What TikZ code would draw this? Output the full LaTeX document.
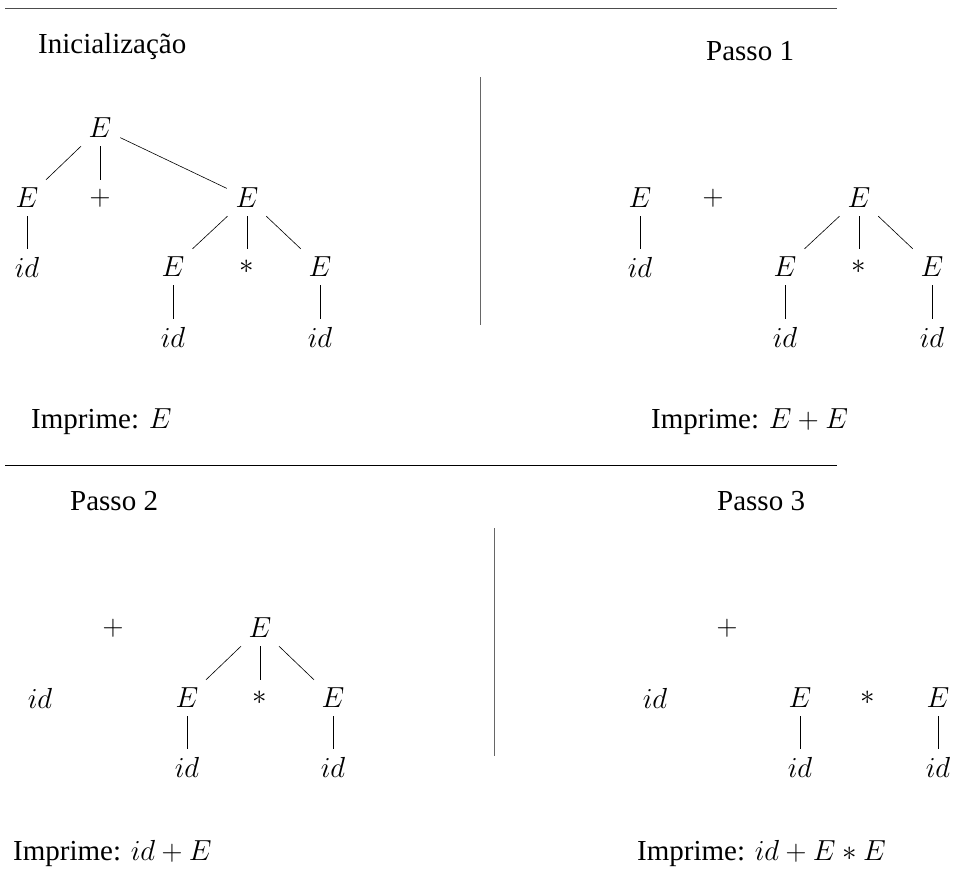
\RequirePackage{fix-cm}
\documentclass[tikz,border=0pt]{standalone}
\usepackage[no-math]{fontspec}
\setmainfont{Liberation Serif}
\begin{document}
\begin{tikzpicture}[x=1pt,y=-1pt,
  tn/.style={minimum width=40pt,minimum height=36pt,inner sep=0pt,font=\fontsize{29}{34}\selectfont},
  lbl/.style={anchor=base west,inner sep=0pt,font=\fontsize{29}{34}\selectfont},
  edge/.style={line width=0.6pt},
  rule/.style={line width=0.8pt}]
\useasboundingbox (0,0) rectangle (960,889);
% rules
\coordinate (h1a) at (5,8); \coordinate (h1b) at (837,8);
\coordinate (h2a) at (5,465); \coordinate (h2b) at (837,465);
\coordinate (v1a) at (480,77); \coordinate (v1b) at (480,325);
\coordinate (v2a) at (494,528); \coordinate (v2b) at (494,756);
\draw[rule,black!70] (h1a) -- (h1b);
\draw[rule] (h2a) -- (h2b);
\draw[rule,black!60] (v1a) -- (v1b);
\draw[rule,black!60] (v2a) -- (v2b);
% labels
\node[lbl] (t0) at (38,53) {Inicialização};
\node[lbl] (t1) at (706,60) {Passo 1};
\node[lbl] (t2) at (70,510) {Passo 2};
\node[lbl] (t3) at (717,510) {Passo 3};
\node[lbl] (p0) at (31,428) {Imprime: $E$};
\node[lbl] (p1) at (651,428) {Imprime: $E+E$};
\node[lbl] (p2) at (13,860) {Imprime: $id+E$};
\node[lbl] (p3) at (637,860) {Imprime: $id+E*E$};
% tree 0
\node[tn] (r0) at (100,128) {$E$};
\node[tn] (a1) at (27,198) {$E$};
\node[tn] (a2) at (100,198) {$+$};
\node[tn] (a3) at (247,198) {$E$};
\node[tn] (b1) at (27,267) {$id$};
\node[tn] (c1) at (173,267) {$E$};
\node[tn] (c2) at (247,267) {$*$};
\node[tn] (c3) at (320,267) {$E$};
\node[tn] (d1) at (173,337) {$id$};
\node[tn] (d3) at (320,337) {$id$};
\draw[edge] (r0) -- (a1); \draw[edge] (r0) -- (a2); \draw[edge] (r0) -- (a3);
\draw[edge] (a1) -- (b1);
\draw[edge] (a3) -- (c1); \draw[edge] (a3) -- (c2); \draw[edge] (a3) -- (c3);
\draw[edge] (c1) -- (d1); \draw[edge] (c3) -- (d3);
% tree 1
\node[tn] (e1) at (640,198) {$E$};
\node[tn] (e2) at (713,198) {$+$};
\node[tn] (e3) at (859,198) {$E$};
\node[tn] (f1) at (640,267) {$id$};
\node[tn] (g1) at (785,267) {$E$};
\node[tn] (g2) at (859,267) {$*$};
\node[tn] (g3) at (932,267) {$E$};
\node[tn] (h1) at (785,337) {$id$};
\node[tn] (h3) at (932,337) {$id$};
\draw[edge] (e1) -- (f1);
\draw[edge] (e3) -- (g1); \draw[edge] (e3) -- (g2); \draw[edge] (e3) -- (g3);
\draw[edge] (g1) -- (h1); \draw[edge] (g3) -- (h3);
% tree 2
\node[tn] (i2) at (113,628) {$+$};
\node[tn] (i3) at (260,628) {$E$};
\node[tn] (j0) at (40,698) {$id$};
\node[tn] (j1) at (187,698) {$E$};
\node[tn] (j2) at (260,698) {$*$};
\node[tn] (j3) at (333,698) {$E$};
\node[tn] (k1) at (187,767) {$id$};
\node[tn] (k3) at (333,767) {$id$};
\draw[edge] (i3) -- (j1); \draw[edge] (i3) -- (j2); \draw[edge] (i3) -- (j3);
\draw[edge] (j1) -- (k1); \draw[edge] (j3) -- (k3);
% tree 3
\node[tn] (l2) at (727,628) {$+$};
\node[tn] (m0) at (655,698) {$id$};
\node[tn] (m1) at (800,698) {$E$};
\node[tn] (m2) at (868,698) {$*$};
\node[tn] (m3) at (938,698) {$E$};
\node[tn] (n1) at (800,767) {$id$};
\node[tn] (n3) at (938,767) {$id$};
\draw[edge] (m1) -- (n1); \draw[edge] (m3) -- (n3);
\end{tikzpicture}
\end{document}
